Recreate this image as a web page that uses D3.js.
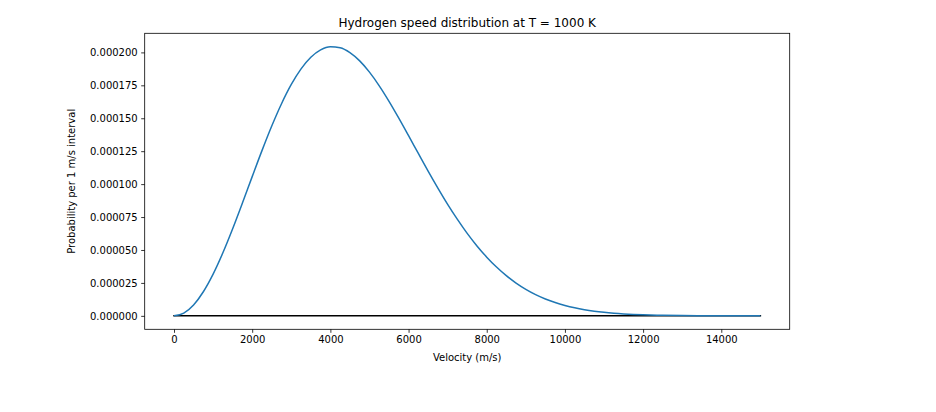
<!DOCTYPE html>
<html>
<head>
<meta charset="utf-8">
<script src="https://cdn.jsdelivr.net/npm/d3@7"></script>
<style>
  html, body { margin: 0; padding: 0; background: #fff; }
  svg { display: block; font-family: "DejaVu Sans", sans-serif; }
</style>
</head>
<body>
<svg id="chart" width="936" height="412"></svg>
<script>
// Velocity (m/s)
const velocities = [0, 250, 500, 750, 1000, 1250, 1500, 1750, 2000, 2250, 2500, 2750, 3000, 3250, 3500, 3750,
  4000, 4250, 4500, 4750, 5000, 5250, 5500, 5750, 6000, 6250, 6500, 6750, 7000, 7250, 7500, 7750,
  8000, 8250, 8500, 8750, 9000, 9250, 9500, 9750, 10000, 10250, 10500, 10750, 11000, 11250, 11500, 11750,
  12000, 12500, 13000, 13500, 14000, 14500, 15000];
// Probability per 1 m/s interval
const probabilities = [0, 2.10e-6, 8.29e-6, 1.831e-5, 3.169e-5, 4.786e-5, 6.610e-5, 8.565e-5, 1.0569e-4, 1.2543e-4, 1.4410e-4, 1.6102e-4, 1.7564e-4, 1.8750e-4, 1.9633e-4, 2.0192e-4,
  2.0428e-4, 2.0353e-4, 1.9985e-4, 1.9355e-4, 1.8502e-4, 1.7464e-4, 1.6288e-4, 1.5011e-4, 1.3678e-4, 1.2329e-4, 1.0990e-4, 9.700e-5, 8.466e-5, 7.322e-5, 6.262e-5, 5.309e-5,
  4.455e-5, 3.704e-5, 3.051e-5, 2.489e-5, 2.014e-5, 1.613e-5, 1.282e-5, 1.008e-5, 7.87e-6, 6.08e-6, 4.66e-6, 3.54e-6, 2.67e-6, 1.99e-6, 1.47e-6, 1.08e-6,
  7.9e-7, 4.1e-7, 2.0e-7, 1.0e-7, 5e-8, 2e-8, 1e-8];
const baselineX = [0, 15000];
const baselineY = [0, 0];
const xTicks = [0, 2000, 4000, 6000, 8000, 10000, 12000, 14000];
const yTicks = [0, 0.000025, 0.00005, 0.000075, 0.0001, 0.000125, 0.00015, 0.000175, 0.0002];
const titleText = "Hydrogen speed distribution at T = 1000 K";
const xLabelText = "Velocity (m/s)";
const yLabelText = "Probability per 1 m/s interval";

const svg = d3.select("#chart");
const L = 144.7, R = 789.7, T = 33.3, B = 329.3;

const xMin = 0, xMax = 15000, xPad = (xMax - xMin) * 0.05;
const yMin = 0, yMax = d3.max(probabilities), yPad = (yMax - yMin) * 0.05;
const x = d3.scaleLinear().domain([xMin - xPad, xMax + xPad]).range([L, R]);
const y = d3.scaleLinear().domain([yMin - yPad, yMax + yPad]).range([B, T]);

// baseline (drawn first, under the curve)
const base = baselineX.map((v, i) => [v, baselineY[i]]);
svg.append("path")
  .attr("d", d3.line().x(d => x(d[0])).y(d => y(d[1]))(base))
  .attr("fill", "none").attr("stroke", "#000").attr("stroke-width", 1.5)
  .attr("stroke-linecap", "square");

// curve
const pts = velocities.map((v, i) => [v, probabilities[i]]);
svg.append("path")
  .attr("d", d3.line().x(d => x(d[0])).y(d => y(d[1])).curve(d3.curveMonotoneX)(pts))
  .attr("fill", "none").attr("stroke", "#1f77b4").attr("stroke-width", 1.5)
  .attr("stroke-linecap", "butt").attr("stroke-linejoin", "round");

// frame
svg.append("rect")
  .attr("x", L).attr("y", T).attr("width", R - L).attr("height", B - T)
  .attr("fill", "none").attr("stroke", "#000").attr("stroke-width", 0.8);

// x axis
const xAxis = d3.axisBottom(x).tickValues(xTicks).tickSize(3.5).tickPadding(3.5).tickFormat(d3.format("d"));
const gx = svg.append("g").attr("transform", `translate(0,${B})`).call(xAxis);
gx.select(".domain").remove();
gx.selectAll(".tick line").attr("stroke", "#000").attr("stroke-width", 0.8);
gx.selectAll(".tick text").attr("font-size", 10).attr("font-family", "DejaVu Sans").attr("fill", "#000");

// y axis
const yAxis = d3.axisLeft(y).tickValues(yTicks).tickSize(3.5).tickPadding(3.5).tickFormat(d3.format(".6f"));
const gy = svg.append("g").attr("transform", `translate(${L},0)`).call(yAxis);
gy.select(".domain").remove();
gy.selectAll(".tick line").attr("stroke", "#000").attr("stroke-width", 0.8);
gy.selectAll(".tick text").attr("font-size", 10).attr("font-family", "DejaVu Sans").attr("fill", "#000");

// labels
svg.append("text").attr("x", (L + R) / 2).attr("y", 27)
  .attr("text-anchor", "middle").attr("font-size", 12).attr("fill", "#000").text(titleText);
svg.append("text").attr("x", (L + R) / 2).attr("y", 361)
  .attr("text-anchor", "middle").attr("font-size", 10).attr("fill", "#000").text(xLabelText);
svg.append("text").attr("transform", `translate(75,${(T + B) / 2}) rotate(-90)`)
  .attr("text-anchor", "middle").attr("font-size", 10).attr("fill", "#000").text(yLabelText);
</script>
</body>
</html>
